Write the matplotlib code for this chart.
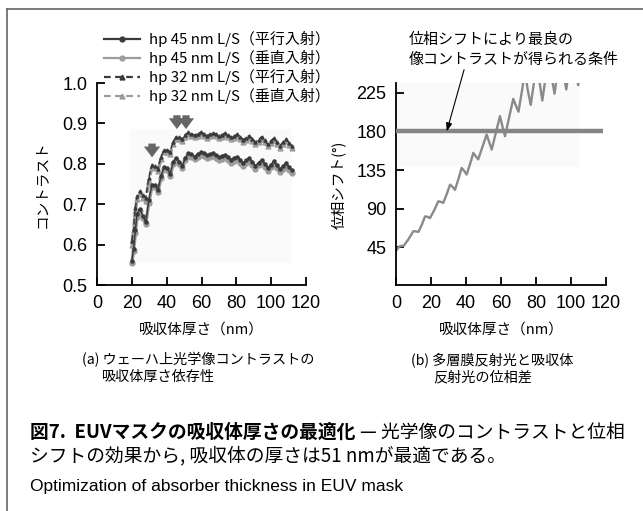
import matplotlib
matplotlib.use("Agg")
import matplotlib.pyplot as plt
from matplotlib.lines import Line2D
from matplotlib.patches import Rectangle

# contrast vs absorber thickness (nm)
thickness = [20, 21, 22, 23, 24.5, 26.25, 28, 29.75, 31.5, 33.25, 35, 36.75, 38.5,
             40.25, 42, 43.75, 45.5, 47.25, 49, 50.75, 52.5, 54.25, 56, 57.75, 59.5,
             61.25, 63, 64.75, 66.5, 68.25, 70, 71.75, 73.5, 75.25, 77, 78.75, 80.5,
             82.25, 84, 85.75, 87.5, 89.25, 91, 92.75, 94.5, 96.25, 98, 99.75, 101.5,
             103.25, 105, 106.75, 108.5, 110.25, 112]
hp45_par = [0.56, 0.59, 0.635, 0.675, 0.688, 0.672, 0.655, 0.71, 0.748, 0.748, 0.735,
            0.77, 0.792, 0.79, 0.775, 0.805, 0.815, 0.805, 0.795, 0.815, 0.826, 0.824,
            0.818, 0.824, 0.828, 0.826, 0.821, 0.824, 0.826, 0.822, 0.816, 0.82, 0.823,
            0.817, 0.81, 0.815, 0.818, 0.81, 0.802, 0.809, 0.814, 0.804, 0.795, 0.803,
            0.81, 0.8, 0.79, 0.798, 0.806, 0.796, 0.786, 0.794, 0.802, 0.792, 0.785]
hp45_perp = [0.555, 0.585, 0.628, 0.668, 0.682, 0.666, 0.65, 0.703, 0.742, 0.742, 0.73,
             0.764, 0.786, 0.784, 0.77, 0.799, 0.81, 0.8, 0.79, 0.809, 0.82, 0.818,
             0.812, 0.817, 0.821, 0.819, 0.814, 0.817, 0.819, 0.815, 0.809, 0.813, 0.816,
             0.81, 0.803, 0.808, 0.811, 0.803, 0.795, 0.802, 0.807, 0.797, 0.788, 0.796,
             0.803, 0.793, 0.783, 0.791, 0.799, 0.789, 0.779, 0.787, 0.795, 0.785, 0.778]
hp32_par = [0.61, 0.64, 0.69, 0.72, 0.732, 0.722, 0.715, 0.765, 0.797, 0.795, 0.788,
            0.818, 0.834, 0.834, 0.830, 0.855, 0.867, 0.866, 0.862, 0.872, 0.878, 0.875,
            0.871, 0.874, 0.878, 0.875, 0.870, 0.873, 0.877, 0.874, 0.869, 0.872, 0.876,
            0.872, 0.866, 0.869, 0.873, 0.867, 0.860, 0.865, 0.870, 0.862, 0.853, 0.860,
            0.867, 0.858, 0.848, 0.856, 0.864, 0.855, 0.845, 0.853, 0.862, 0.852, 0.845]
hp32_perp = [0.60, 0.635, 0.683, 0.714, 0.727, 0.716, 0.708, 0.758, 0.791, 0.790, 0.782,
             0.812, 0.829, 0.829, 0.824, 0.850, 0.862, 0.861, 0.856, 0.867, 0.873, 0.870,
             0.866, 0.869, 0.873, 0.870, 0.865, 0.868, 0.872, 0.869, 0.864, 0.867, 0.871,
             0.867, 0.861, 0.864, 0.868, 0.862, 0.855, 0.860, 0.865, 0.857, 0.848, 0.855,
             0.862, 0.853, 0.843, 0.851, 0.859, 0.850, 0.840, 0.848, 0.857, 0.847, 0.840]
legend_labels = ["hp 45 nm L/S（平行入射）", "hp 45 nm L/S（垂直入射）",
                 "hp 32 nm L/S（平行入射）", "hp 32 nm L/S（垂直入射）"]

# marked thicknesses (nm) and the contrast the arrows point at
mark_nm = [31.6, 45.9, 51.1]
mark_contrast = [0.809, 0.879, 0.879]

# phase shift vs absorber thickness
phase_nm = [0, 2, 4.5, 7, 9.9, 11.3, 12.8, 14.7, 16.6, 18, 19.4, 21.8, 24.2, 25.6, 27,
            29, 30.9, 32.3, 33.7, 35.6, 37.5, 39, 40.4, 42.3, 44.2, 45.6, 47, 49.4,
            51.8, 53.2, 54.7, 57, 59.4, 60.8, 62.3, 64.6, 67, 68.5, 70, 71.8, 73.7,
            75.3, 77, 78.7, 80.4, 82, 83.6, 85.3, 87.1, 88.8, 90.6, 92.2, 93.8, 95.5,
            97.3, 98.9, 100.5, 102.3, 104.1, 105.5]
phase_deg = [41, 46, 47, 54, 63.7, 63.5, 62.9, 71, 81, 80.5, 79, 88, 98.6, 98, 96.7,
             107, 118, 115.5, 112, 124, 137.5, 134, 129.8, 142, 155, 151, 147.5, 162,
             176.4, 168, 158.9, 178, 197.8, 186, 174.5, 196, 218, 210, 203, 225, 250,
             228, 211, 235, 260, 238, 216, 240, 265, 245, 224, 248, 270, 250, 229, 252,
             275, 254, 234, 250]
best_phase = 180

W, H = 643, 511
JP = ["Noto Sans CJK JP", "DejaVu Sans"]
NUM = ["Liberation Sans Narrow", "Liberation Sans", "DejaVu Sans"]
plt.rcParams["font.family"] = JP

DARK = "#3a3a3a"
LIGHT = "#9c9c9c"


def fx(x):
    return x / W


def fy(y):
    return 1 - y / H


def style_axes(ax):
    for s in ("top", "right"):
        ax.spines[s].set_visible(False)
    for s in ("left", "bottom"):
        ax.spines[s].set_linewidth(1.3)
    ax.tick_params(direction="in", length=6, width=1.3, labelsize=13, pad=7,
                   labelfontfamily=NUM)


fig = plt.figure(figsize=(W / 100, H / 100), dpi=100)

# panel (a): contrast
ax1 = fig.add_axes([fx(97), fy(285), 209 / W, 202 / H])
style_axes(ax1)
ax1.add_patch(Rectangle((19, 0.555), 93, 0.33, color="#fafafa", zorder=0, lw=0))
ax1.plot(thickness, hp45_perp, color=LIGHT, lw=2.4, marker="o", ms=3.5, zorder=2)
ax1.plot(thickness, hp45_par, color=DARK, lw=1.1, marker="o", ms=2.2, zorder=3)
ax1.plot(thickness, hp32_perp, color=LIGHT, lw=2.4, ls="--", marker="^", ms=3.5, zorder=2)
ax1.plot(thickness, hp32_par, color=DARK, lw=1.1, ls="--", marker="^", ms=2.2, zorder=3)
for xm, ym in zip(mark_nm, mark_contrast):
    ax1.annotate("", xy=(xm, ym), xytext=(xm, ym + 0.048),
                 arrowprops=dict(arrowstyle="simple,head_width=0.9,head_length=0.6,tail_width=0.4",
                                 color="#666666", lw=0, mutation_scale=13))
ax1.set_xlim(0, 120)
ax1.set_ylim(0.5, 1.0)
ax1.set_xticks(range(0, 121, 20))
ax1.set_yticks([0.5, 0.6, 0.7, 0.8, 0.9, 1.0])
ax1.set_yticklabels(["0.5", "0.6", "0.7", "0.8", "0.9", "1.0"])

handles = [
    Line2D([], [], color=DARK, lw=1.6, marker="o", ms=3.5),
    Line2D([], [], color=LIGHT, lw=1.6, marker="o", ms=3.5),
    Line2D([], [], color=DARK, lw=1.6, ls=(0, (3, 2)), marker="^", ms=3.5),
    Line2D([], [], color=LIGHT, lw=1.6, ls=(0, (3, 2)), marker="^", ms=3.5),
]
fig.legend(handles, legend_labels, loc="upper left", bbox_to_anchor=(fx(104), fy(31)),
           frameon=False, fontsize=10.8, handlelength=2.4, handletextpad=0.6,
           labelspacing=0.2, borderaxespad=0, borderpad=0)

# panel (b): phase shift
ax2 = fig.add_axes([fx(396), fy(285), 210 / W, 202 / H])
style_axes(ax2)
ax2.add_patch(Rectangle((0, 138), 105, 100, color="#fafafa", zorder=0, lw=0))
ax2.plot(phase_nm, phase_deg, color="#8a8a8a", lw=1.7, zorder=2)
ax2.plot([0, 118.5], [best_phase, best_phase], color="#858585", lw=3.2,
         solid_capstyle="butt", zorder=3, clip_on=False)
ax2.annotate("", xy=(29, best_phase), xytext=(38.9, 252), annotation_clip=False,
             arrowprops=dict(arrowstyle="-|>,head_length=0.5,head_width=0.18",
                             color="black", lw=0.8, shrinkA=0, shrinkB=0))
ax2.set_xlim(0, 120)
ax2.set_ylim(1, 236.5)
ax2.set_xticks(range(0, 121, 20))
ax2.set_yticks([45, 90, 135, 180, 225])

# axis titles
fig.text(fx(42), fy(184), "コントラスト", rotation=90, ha="center", va="center", fontsize=10.5)
fig.text(fx(338), fy(185), "位相シフト(°)", rotation=90, ha="center", va="center", fontsize=10.5)
fig.text(fx(201), fy(330), "吸収体厚さ（nm）", ha="center", va="center", fontsize=10.5)
fig.text(fx(501), fy(330), "吸収体厚さ（nm）", ha="center", va="center", fontsize=10.5)
fig.text(fx(409), fy(40), "位相シフトにより最良の", ha="left", va="center", fontsize=10.8)
fig.text(fx(409), fy(60), "像コントラストが得られる条件", ha="left", va="center", fontsize=10.8)

# panel captions
fig.text(fx(82), fy(360), "(a) ウェーハ上光学像コントラストの", ha="left", va="center", fontsize=10.2)
fig.text(fx(102), fy(377), "吸収体厚さ依存性", ha="left", va="center", fontsize=10.2)
fig.text(fx(411), fy(360), "(b) 多層膜反射光と吸収体", ha="left", va="center", fontsize=10.2)
fig.text(fx(433), fy(377), "反射光の位相差", ha="left", va="center", fontsize=10.2)

# figure caption
renderer = fig.canvas.get_renderer()
t1 = fig.text(fx(30), fy(432), "図7.  EUVマスクの吸収体厚さの最適化", ha="left", va="center",
              fontsize=13.5, fontweight="bold")
bb = t1.get_window_extent(renderer)
fig.text(bb.x1 / fig.bbox.width + fx(5), fy(432), "— 光学像のコントラストと位相",
         ha="left", va="center", fontsize=13.5)
fig.text(fx(30), fy(456), "シフトの効果から, 吸収体の厚さは51 nmが最適である。",
         ha="left", va="center", fontsize=13.5)
fig.text(fx(30), fy(486), "Optimization of absorber thickness in EUV mask", ha="left",
         va="center", fontsize=12.5, family=["Liberation Sans Narrow", "Liberation Sans"])

# frame
fig.add_artist(Line2D([fx(7), 1], [fy(9), fy(9)], color="#666666", lw=1.2))
fig.add_artist(Line2D([fx(7), fx(7)], [fy(9), 0], color="#666666", lw=1.2))

fig.savefig("out.png", dpi=100)
